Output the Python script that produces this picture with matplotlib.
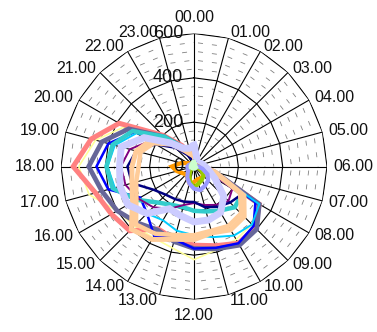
import numpy as np
import matplotlib
matplotlib.use('Agg')
import matplotlib.pyplot as plt
from matplotlib.collections import LineCollection
from matplotlib import transforms

plt.rcParams['font.family'] = ['Liberation Sans', 'DejaVu Sans']
plt.rcParams['lines.scale_dashes'] = False

# hour labels round the dial
hour_labels = ['%02d.00' % h for h in range(24)]
radial_ticks = [0, 200, 400, 600]
r_max = 600

# one list of 24 hourly values per series (00.00 .. 23.00)
yellow = [30, 15, 8, 5, 5, 10, 35, 100, 330, 370, 380, 390, 420, 380, 370, 380, 400, 490, 520, 460, 360, 190, 100, 55]
salmon = [40, 20, 10, 5, 5, 10, 40, 90, 340, 390, 400, 370, 355, 340, 325, 410, 430, 460, 545, 480, 390, 200, 110, 60]
slate = [30, 15, 8, 5, 5, 10, 40, 100, 340, 400, 410, 385, 370, 350, 330, 360, 400, 430, 475, 430, 340, 190, 100, 50]
blue = [25, 12, 6, 4, 4, 8, 35, 90, 320, 380, 400, 380, 370, 340, 360, 300, 280, 400, 440, 400, 310, 170, 90, 45]
sky = [25, 12, 6, 4, 4, 8, 35, 90, 340, 370, 360, 330, 310, 300, 280, 300, 330, 370, 390, 370, 300, 170, 90, 45]
turquoise = [30, 15, 6, 4, 4, 8, 30, 80, 250, 260, 230, 210, 200, 190, 200, 230, 300, 380, 395, 380, 320, 190, 100, 50]
purple = [15, 8, 4, 3, 3, 6, 20, 60, 200, 220, 200, 180, 165, 180, 220, 260, 290, 320, 330, 300, 230, 140, 70, 30]
navy = [15, 8, 4, 3, 3, 6, 25, 100, 250, 230, 210, 190, 160, 165, 170, 180, 210, 290, 300, 270, 200, 120, 60, 30]
peach1 = [50, 25, 10, 8, 8, 15, 40, 100, 260, 320, 330, 310, 330, 340, 380, 400, 320, 290, 280, 270, 230, 150, 90, 60]
peach2 = [45, 20, 10, 8, 8, 15, 40, 90, 240, 300, 310, 300, 310, 320, 350, 370, 300, 270, 250, 250, 210, 140, 80, 55]
lavender = [95, 45, 25, 20, 30, 40, 50, 70, 110, 190, 240, 250, 250, 230, 220, 300, 345, 345, 336, 340, 260, 150, 95, 85]
orange = [15, 8, 5, 5, 10, 15, 20, 25, 40, 60, 60, 60, 70, 80, 60, 50, 60, 80, 100, 60, 30, 15, 10, 10]
yellowgreen = [5, 5, 5, 5, 5, 8, 10, 20, 40, 60, 70, 80, 95, 70, 40, 20, 15, 15, 15, 10, 8, 5, 5, 5]
palepurple = [20, 15, 10, 8, 8, 10, 20, 40, 70, 90, 100, 110, 100, 80, 60, 40, 30, 30, 30, 25, 20, 15, 15, 15]
palegreen = [20, 15, 10, 8, 5, 5, 5, 5, 10, 10, 10, 10, 10, 10, 10, 10, 10, 15, 15, 15, 15, 15, 15, 20]

# (values, colour, width) in drawing order
series = [
    (yellow, '#FFFF99', 1.2),
    (salmon, '#FF8080', 3.6),
    (slate, '#666699', 3.4),
    (blue, '#0000FF', 1.8),
    (sky, '#00CCFF', 1.4),
    (turquoise, '#33CCCC', 3.2),
    (purple, '#800080', 1.4),
    (navy, '#000080', 1.8),
    (peach2, '#FFCC99', 3.2),
    (peach1, '#FFCC99', 3.6),
    (lavender, '#CCCCFF', 5.0),
    (orange, '#FF9900', 3.0),
    (yellowgreen, '#99CC00', 3.0),
    (palepurple, '#9999FF', 3.0),
    (palegreen, '#CCFFCC', 3.0),
]

W, H = 377, 332
cx, cy, R = 194, 166.5, 133

fig = plt.figure(figsize=(W / 100, H / 100), dpi=100)
ax = fig.add_axes([(cx - R) / W, (H - cy - R) / H, 2 * R / W, 2 * R / H], projection='polar')
ax.set_theta_zero_location('N')
ax.set_theta_direction(-1)
ax.set_ylim(0, r_max)
ax.grid(False)
ax.set_xticks([])
ax.set_yticks([])
ax.spines['polar'].set_visible(False)
ax.patch.set_alpha(0)

theta = np.deg2rad(np.arange(24) * 15)
theta_closed = np.append(theta, theta[0])

# minor dashed rings, drawn segment by segment so the dash restarts each sector
segs = []
for r in range(40, r_max, 40):
    if r % 200 == 0:
        continue
    for i in range(24):
        segs.append([(theta_closed[i], r), (theta_closed[i + 1], r)])
ax.add_collection(LineCollection(segs, colors='#808080', linewidths=0.6,
                                 linestyles=[(7.2, (3.6, 6.5))], zorder=1))

# spokes and major rings
for t in theta:
    ax.plot([t, t], [0, r_max], color='black', lw=0.8, zorder=2)
for r in radial_ticks[1:]:
    ax.plot(theta_closed, [r] * 25, color='black', lw=0.8, zorder=2)

# data
for vals, col, lw in series:
    ax.plot(theta_closed, vals + vals[:1], color=col, lw=lw, zorder=3,
            solid_joinstyle='miter')

# hour labels
lab_r = r_max * (R + 6) / R
for t, lab in zip(theta, hour_labels):
    s, c = np.sin(t), np.cos(t)
    if abs(s) < 0.01:
        ha = 'center'
        va = 'bottom' if c > 0 else 'top'
        rr = r_max * (R + 9) / R
    else:
        ha = 'left' if s > 0 else 'right'
        va = 'center'
        rr = lab_r
    ax.text(t, rr, lab, ha=ha, va=va, fontsize=11.5, color='#111111')

# radial labels left of the 00.00 spoke
off = transforms.offset_copy(ax.transData, fig=fig, x=-11, y=0, units='dots')
for r in radial_ticks:
    ax.text(0, r, str(r), transform=off, ha='right', va='center', fontsize=13,
            color='#111111', zorder=5)

fig.savefig('out.png', dpi=100)
